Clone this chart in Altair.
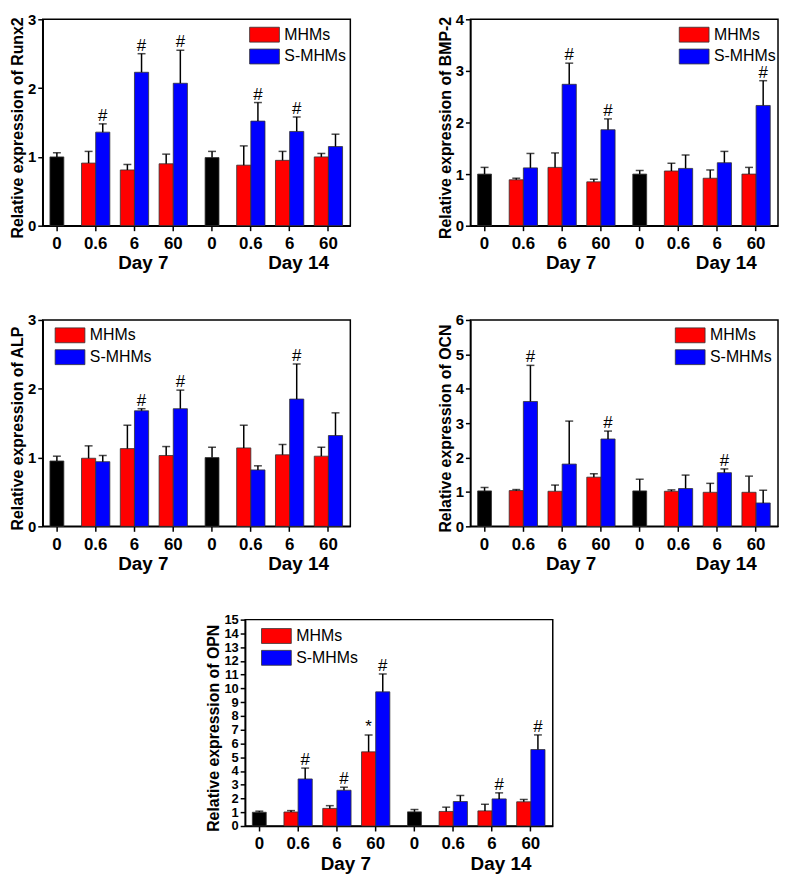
import altair as alt
import pandas as pd

FONT = "Liberation Sans"
RED = "#ff0000"
BLUE = "#0000ff"

slots = ["D7|0", "D7|0.6", "D7|6", "D7|60", "D14|0", "D14|0.6", "D14|6", "D14|60"]
ctrl_slots = ["D7|0", "D14|0"]
pair_slots = ["D7|0.6", "D7|6", "D7|60", "D14|0.6", "D14|6", "D14|60"]
series_names = ["MHMs", "S-MHMs"]
day_labels = ["Day 7", "Day 14"]
day_slots = ["D7|6", "D14|6"]

# Runx2
runx2_ctrl = [1.00, 0.99]
runx2_ctrl_sd = [0.06, 0.09]
runx2_m = [0.91, 0.81, 0.90, 0.88, 0.95, 1.00]
runx2_m_sd = [0.17, 0.08, 0.14, 0.28, 0.13, 0.05]
runx2_s = [1.36, 2.23, 2.07, 1.52, 1.37, 1.15]
runx2_s_sd = [0.12, 0.27, 0.48, 0.27, 0.21, 0.18]
runx2_m_sig = ["", "", "", "", "", ""]
runx2_s_sig = ["#", "#", "#", "#", "#", ""]

# BMP-2
bmp2_ctrl = [1.00, 1.00]
bmp2_ctrl_sd = [0.13, 0.07]
bmp2_m = [0.89, 1.13, 0.85, 1.06, 0.92, 1.00]
bmp2_m_sd = [0.03, 0.28, 0.05, 0.15, 0.16, 0.13]
bmp2_s = [1.12, 2.74, 1.86, 1.11, 1.22, 2.33]
bmp2_s_sd = [0.28, 0.41, 0.21, 0.26, 0.22, 0.48]
bmp2_m_sig = ["", "", "", "", "", ""]
bmp2_s_sig = ["", "#", "#", "", "", "#"]

# ALP
alp_ctrl = [0.95, 1.00]
alp_ctrl_sd = [0.07, 0.15]
alp_m = [0.99, 1.13, 1.03, 1.14, 1.04, 1.02]
alp_m_sd = [0.18, 0.34, 0.13, 0.33, 0.15, 0.13]
alp_s = [0.94, 1.68, 1.71, 0.82, 1.85, 1.32]
alp_s_sd = [0.09, 0.03, 0.27, 0.06, 0.51, 0.33]
alp_m_sig = ["", "", "", "", "", ""]
alp_s_sig = ["", "#", "#", "", "#", ""]

# OCN
ocn_ctrl = [1.03, 1.03]
ocn_ctrl_sd = [0.10, 0.34]
ocn_m = [1.04, 1.02, 1.43, 1.02, 0.99, 0.99]
ocn_m_sd = [0.03, 0.18, 0.10, 0.04, 0.26, 0.47]
ocn_s = [3.63, 1.81, 2.54, 1.10, 1.56, 0.68]
ocn_s_sd = [1.05, 1.25, 0.23, 0.39, 0.11, 0.37]
ocn_m_sig = ["", "", "", "", "", ""]
ocn_s_sig = ["#", "", "#", "", "#", ""]

# OPN
opn_ctrl = [1.00, 1.03]
opn_ctrl_sd = [0.08, 0.17]
opn_m = [1.02, 1.28, 5.39, 1.06, 1.10, 1.76]
opn_m_sd = [0.10, 0.20, 1.23, 0.31, 0.48, 0.17]
opn_s = [3.42, 2.60, 9.75, 1.78, 1.97, 5.56]
opn_s_sd = [0.79, 0.22, 1.30, 0.44, 0.44, 1.06]
opn_m_sig = ["", "", "*", "", "", ""]
opn_s_sig = ["#", "#", "#", "", "#", "#"]

W, H = 310, 208


def panel(gene, ymax, yticks, ctrl, ctrl_sd, m, m_sd, s, s_sd, m_sig, s_sig,
          box_x, box_y, ylab_size=15):
    rows = []
    for sl, v, sd in zip(ctrl_slots, ctrl, ctrl_sd):
        rows.append(dict(slot=sl, series="Control", value=v, top=v + sd, sig=""))
    for sl, v, sd, sg in zip(pair_slots, m, m_sd, m_sig):
        rows.append(dict(slot=sl, series="MHMs", value=v, top=v + sd, sig=sg))
    for sl, v, sd, sg in zip(pair_slots, s, s_sd, s_sig):
        rows.append(dict(slot=sl, series="S-MHMs", value=v, top=v + sd, sig=sg))
    df = pd.DataFrame(rows)
    days = pd.DataFrame({"slot": day_slots, "day": day_labels})

    xscale = alt.Scale(domain=slots, paddingInner=0.27, paddingOuter=0.1, align=0)
    xaxis = alt.Axis(labelExpr="split(datum.value, '|')[1]", labelAngle=0,
                     labelFontSize=17, labelPadding=5, tickSize=5)
    X = alt.X("slot:N", scale=xscale, axis=xaxis, title=None)
    yscale = alt.Scale(domain=[0, ymax], nice=False)
    yaxis = alt.Axis(values=yticks, tickCount=len(yticks), format="d", grid=False,
                     labelFontSize=ylab_size, labelOverlap=False, tickSize=5,
                     labelPadding=2, titleFontSize=16, titlePadding=2,
                     titleY=H / 2 + 5)
    title = f"Relative expression of {gene}"

    def Y(field):
        return alt.Y(field, scale=yscale, axis=yaxis, title=title)

    XO = alt.XOffset("series:N", scale=alt.Scale(domain=series_names,
                                                 paddingInner=0, paddingOuter=0))

    base = alt.Chart(df)
    pairs = base.transform_filter("datum.series != 'Control'")
    ctrl_b = base.transform_filter("datum.series == 'Control'")

    bars = pairs.mark_bar(stroke="#333", strokeWidth=0.8).encode(
        x=X, xOffset=XO, y=Y("value:Q"),
        color=alt.Color("series:N",
                        scale=alt.Scale(domain=series_names, range=[RED, BLUE]),
                        legend=alt.Legend(orient="none", legendX=box_x + 7.5,
                                          legendY=box_y - 0.5,
                                          title=None, labelFont=FONT, labelFontSize=16,
                                          symbolType="M-2,-1L2,-1L2,1L-2,1Z",
                                          symbolSize=225, symbolStrokeColor="#333",
                                          symbolStrokeWidth=0.8, labelOffset=12,
                                          rowPadding=2, padding=0)),
    )
    err = pairs.mark_rule(color="black", strokeWidth=1.5).encode(
        x=X, xOffset=XO, y=Y("value:Q"), y2="top:Q")
    cap = pairs.mark_tick(color="black", thickness=1.5, size=8,
                          orient="horizontal").encode(x=X, xOffset=XO, y=Y("top:Q"))
    sig = pairs.mark_text(font=FONT, fontSize=17, baseline="alphabetic", dy=-3,
                          color="black").encode(x=X, xOffset=XO, y=Y("top:Q"),
                                                text="sig:N")

    cbar = ctrl_b.mark_bar(width=14, color="black", stroke="#333",
                           strokeWidth=0.8).encode(x=X, y=Y("value:Q"))
    cerr = ctrl_b.mark_rule(color="black", strokeWidth=1.5).encode(
        x=X, y=Y("value:Q"), y2="top:Q")
    ccap = ctrl_b.mark_tick(color="black", thickness=1.5, size=8,
                            orient="horizontal").encode(x=X, y=Y("top:Q"))

    daytxt = alt.Chart(days).mark_text(font=FONT, fontSize=19, fontWeight="bold",
                                       baseline="alphabetic", dx=9,
                                       color="black").encode(
        x=X, y=alt.value(H + 44), text="day:N")

    return alt.layer(bars, err, cap, sig, cbar, cerr, ccap, daytxt).properties(
        width=W, height=H)


p1 = panel("Runx2", 3, [0, 1, 2, 3], runx2_ctrl, runx2_ctrl_sd, runx2_m, runx2_m_sd,
           runx2_s, runx2_s_sd, runx2_m_sig, runx2_s_sig, 208, 8)
p2 = panel("BMP-2", 4, [0, 1, 2, 3, 4], bmp2_ctrl, bmp2_ctrl_sd, bmp2_m, bmp2_m_sd,
           bmp2_s, bmp2_s_sd, bmp2_m_sig, bmp2_s_sig, 210, 8)
p3 = panel("ALP", 3, [0, 1, 2, 3], alp_ctrl, alp_ctrl_sd, alp_m, alp_m_sd,
           alp_s, alp_s_sd, alp_m_sig, alp_s_sig, 12, 8)
p4 = panel("OCN", 6, [0, 1, 2, 3, 4, 5, 6], ocn_ctrl, ocn_ctrl_sd, ocn_m, ocn_m_sd,
           ocn_s, ocn_s_sd, ocn_m_sig, ocn_s_sig, 206, 8)
p5 = panel("OPN", 15, list(range(16)), opn_ctrl, opn_ctrl_sd, opn_m, opn_m_sd,
           opn_s, opn_s_sd, opn_m_sig, opn_s_sig, 16, 9, ylab_size=13)

spacer = alt.Chart(pd.DataFrame({"a": [0]})).mark_point(size=0, opacity=0).encode(
    x=alt.value(0), y=alt.value(0)).properties(
    width=204, height=1, view=alt.ViewBackground(strokeOpacity=0))

row1 = alt.hconcat(p1, p2, spacing=121, bounds="flush").resolve_scale(
    color="independent").resolve_legend(color="independent")
row2 = alt.hconcat(p3, p4, spacing=121, bounds="flush").resolve_scale(
    color="independent").resolve_legend(color="independent")
row3 = alt.hconcat(spacer, p5, spacing=0, bounds="flush").resolve_scale(
    color="independent").resolve_legend(color="independent")

chart = alt.vconcat(row1, row2, row3, spacing=38).resolve_legend(
    color="independent"
).resolve_scale(color="independent").properties(
    padding={"left": 0, "top": 0, "right": 0, "bottom": 0}
).configure_view(stroke="black", strokeWidth=1.5).configure_axis(
    labelFont=FONT, labelFontWeight="bold", labelColor="black",
    titleFont=FONT, titleFontWeight="bold", titleColor="black",
    domainColor="black", domainWidth=1.5, tickColor="black", tickWidth=1.5,
).configure_legend(labelColor="black")

chart.save("out.html", embed_options={"renderer": "svg", "actions": False})
